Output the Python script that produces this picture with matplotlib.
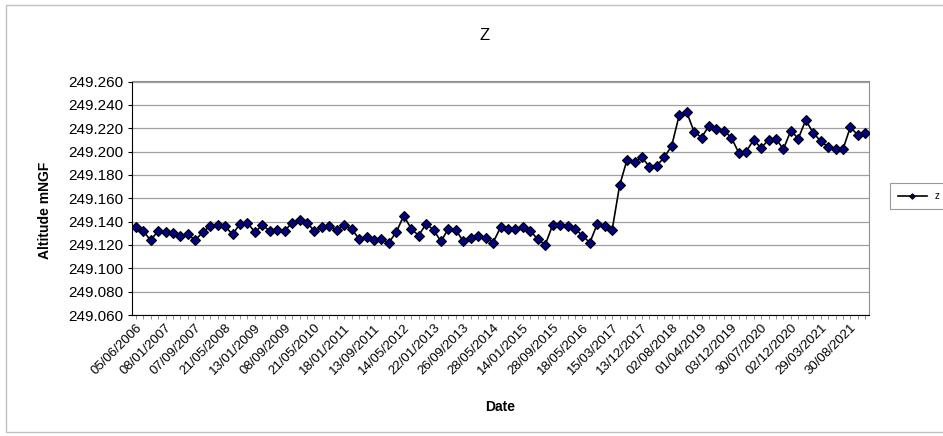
import matplotlib
matplotlib.use("Agg")
import matplotlib.pyplot as plt
from matplotlib.patches import Rectangle
from matplotlib.ticker import FormatStrFormatter, MultipleLocator
import numpy as np

plt.rcParams['font.family'] = ['Liberation Sans', 'DejaVu Sans']

# altitude readings (mNGF), one per survey
z = [
    249.135, 249.132, 249.124, 249.132, 249.131, 249.130, 249.128, 249.129, 249.124,
    249.131, 249.136, 249.137, 249.136, 249.129, 249.138, 249.139, 249.131,
    249.137, 249.132, 249.133, 249.132, 249.139, 249.141, 249.139, 249.132,
    249.135, 249.136, 249.133, 249.137, 249.134, 249.125, 249.127, 249.124,
    249.125, 249.122, 249.131, 249.145, 249.134, 249.128, 249.138, 249.133, 249.123,
    249.134, 249.133, 249.123, 249.126, 249.128, 249.126, 249.122, 249.135,
    249.134, 249.134, 249.135, 249.132, 249.125, 249.120, 249.137, 249.137,
    249.136, 249.134, 249.128, 249.122, 249.138, 249.136, 249.133,
    249.171, 249.193, 249.191, 249.195, 249.187, 249.188, 249.195, 249.205, 249.231,
    249.234, 249.217, 249.212, 249.222, 249.219, 249.218, 249.212, 249.199,
    249.200, 249.210, 249.203, 249.210, 249.211, 249.202, 249.218, 249.211, 249.227,
    249.216, 249.209, 249.204, 249.202, 249.202, 249.221, 249.214, 249.216,
]

# every 4th survey date is printed on the category axis
date_labels = [
    "05/06/2006", "08/01/2007", "07/09/2007", "21/05/2008", "13/01/2009",
    "08/09/2009", "21/05/2010", "18/01/2011", "13/09/2011", "14/05/2012",
    "22/01/2013", "26/09/2013", "28/05/2014", "14/01/2015", "28/09/2015",
    "18/05/2016", "15/03/2017", "13/12/2017", "02/08/2018", "01/04/2019",
    "03/12/2019", "30/07/2020", "02/12/2020", "29/03/2021", "30/08/2021",
]
label_step = 4

W, H = 943, 436
fig = plt.figure(figsize=(W / 100, H / 100), dpi=100)

# chart area frame
fig.patches.append(Rectangle((6 / W, 4 / H), 1.0, 1 - 9 / H, transform=fig.transFigure,
                             fill=False, edgecolor='#c0c0c0', linewidth=1.0))

ax = fig.add_axes([132 / W, 121 / H, 737 / W, 233.5 / H])

x = np.arange(len(z))
ax.plot(x, z, color='black', linewidth=1.2, marker='D', markersize=5.5,
        markerfacecolor='#000080', markeredgecolor='black', markeredgewidth=0.8,
        label='z', zorder=3)

ax.set_xlim(-0.5, len(z) - 0.5)
ax.set_ylim(249.060, 249.260)
ax.yaxis.set_major_locator(MultipleLocator(0.020))
ax.yaxis.set_major_formatter(FormatStrFormatter('%.3f'))
ax.grid(axis='y', color='#a0a0a0', linewidth=0.9)
ax.set_axisbelow(True)

ax.set_xticks(x[::label_step])
ax.set_xticklabels(date_labels, rotation=45, ha='right', rotation_mode='anchor')
ax.set_xticks(x, minor=True)
ax.tick_params(axis='x', which='both', length=3, width=0.6, color='#808080',
               labelsize=9.5, pad=2)
ax.tick_params(axis='y', length=3, width=0.8, labelsize=11, pad=3)

for side in ('top', 'right'):
    ax.spines[side].set_color('#909090')
ax.spines['left'].set_color('black')
ax.spines['bottom'].set_color('black')

fig.text(45 / W, 1 - 210 / H, 'Altitude mNGF', rotation=90, ha='center', va='center',
         fontsize=10, fontweight='bold')
fig.text(500 / W, 1 - 407 / H, 'Date', ha='center', va='center',
         fontsize=10, fontweight='bold')
fig.text(485 / W, 1 - 35 / H, 'Z', ha='center', va='center', fontsize=12)

leg = fig.legend(loc='center left', bbox_to_anchor=(885 / W, 1 - 196 / H),
                 fontsize=7, frameon=True, fancybox=False, handlelength=3,
                 borderpad=0.8, markerscale=0.5)
leg.get_frame().set_edgecolor('#808080')
leg.get_frame().set_linewidth(0.8)

fig.savefig('out.png', dpi=100)
